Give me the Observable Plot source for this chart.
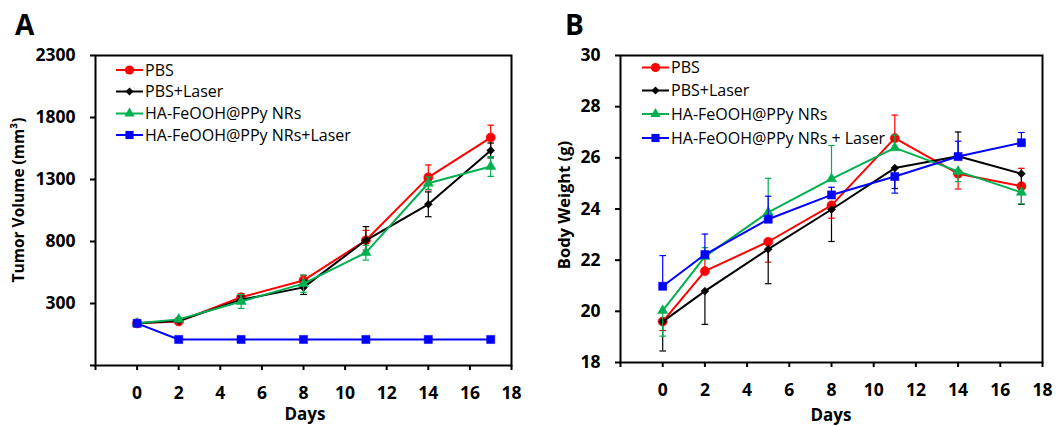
<!DOCTYPE html>
<html>
<head>
<meta charset="utf-8">
<script src="https://cdn.jsdelivr.net/npm/d3@7"></script>
<script src="https://cdn.jsdelivr.net/npm/@observablehq/plot@0.6"></script>
<style>
  html, body { margin: 0; padding: 0; background: #fff; }
  #wrap { position: relative; width: 1062px; height: 426px; font-family: "Open Sans", sans-serif; }
  #wrap > svg { position: absolute; top: 0; }
</style>
</head>
<body>
<div id="wrap"></div>
<script>
// ---------- data ----------
const days = [0, 2, 5, 8, 11, 14, 17];
const xTicks = [-2, 0, 2, 4, 6, 8, 10, 12, 14, 16, 18];

const namesA = ["PBS", "PBS+Laser", "HA-FeOOH@PPy NRs", "HA-FeOOH@PPy NRs+Laser"];
const namesB = ["PBS", "PBS+Laser", "HA-FeOOH@PPy NRs", "HA-FeOOH@PPy NRs + Laser"];
const colors = ["#ff0000", "#000000", "#00b050", "#0000ff"];
const symbols = ["circle", "diamond2", "triangle", "square"];

// Panel A: tumor volume (mm³)
const volTicks = [-200, 300, 800, 1300, 1800, 2300];
const volPBS      = [140, 155, 350, 486, 810, 1317, 1638];
const volPBSLaser = [140, 160, 330, 430, 810, 1100, 1534];
const volNRs      = [140, 172, 316, 460, 710, 1270, 1405];
const volNRsLaser = [140, 10, 10, 10, 10, 10, 10];
// error bars as [down, up]
const volErrPBS      = [[0,0],[10,10],[30,30],[40,40],[80,80],[100,100],[100,100]];
const volErrPBSLaser = [[0,0],[10,10],[30,30],[57,57],[110,110],[100,100],[60,60]];
const volErrNRs      = [[0,0],[10,10],[56,56],[70,70],[60,60],[50,50],[80,80]];
const volErrNRsLaser = [[0,0],[0,0],[0,0],[0,0],[0,0],[0,0],[0,0]];

// Panel B: body weight (g)
const wTicks = [18, 20, 22, 24, 26, 28, 30];
const wPBS      = [19.6, 21.57, 22.72, 24.14, 26.77, 25.38, 24.89];
const wPBSLaser = [19.6, 20.79, 22.43, 23.98, 25.6, 26.06, 25.38];
const wNRs      = [20.03, 22.14, 23.87, 25.18, 26.39, 25.47, 24.65];
const wNRsLaser = [20.98, 22.22, 23.6, 24.55, 25.27, 26.05, 26.59];
const wErrPBS      = [[0.35,0],[0,0.5],[0.8,0],[0.5,0],[0,0.9],[0.6,0],[0,0.7]];
const wErrPBSLaser = [[1.15,0],[1.3,0],[1.35,0],[1.25,0],[0.8,0],[0,0.95],[1.2,0]];
const wErrNRs      = [[1.0,0],[0,0.35],[0,1.33],[0,1.3],[0,0.5],[0.4,0],[0.45,0]];
const wErrNRsLaser = [[0,1.2],[0,0.8],[0,0.9],[0,0.3],[0.65,0],[0,0.6],[0,0.4]];

// ---------- drawing ----------
const markerR = [4.6, 3.6, 3.8, 4.6];
const capSymbol = {
  draw(ctx, size) { const w = Math.sqrt(size) / 2; ctx.moveTo(-w, 0); ctx.lineTo(w, 0); }
};

function makePanel({series, errors, yDomain, yTicks, yFormat, marginLeft, marginBottom}) {
  const marks = [];
  series.forEach((vals, i) => {
    const rows = days.map((d, j) => ({
      day: d, v: vals[j],
      down: errors[i][j][0], up: errors[i][j][1],
      lo: vals[j] - errors[i][j][0], hi: vals[j] + errors[i][j][1]
    }));
    const bars = rows.filter(r => r.down > 0 || r.up > 0);
    const caps = rows.filter(r => r.down > 0).map(r => ({day: r.day, y: r.lo}))
      .concat(rows.filter(r => r.up > 0).map(r => ({day: r.day, y: r.hi})));
    marks.push(
      Plot.ruleX(bars, {x: "day", y1: "lo", y2: "hi", stroke: colors[i], strokeWidth: 1.2}),
      Plot.dot(caps, {x: "day", y: "y", symbol: capSymbol, r: 3.7, stroke: colors[i], strokeWidth: 1.2, fill: "none"}),
      Plot.line(rows, {x: "day", y: "v", stroke: colors[i], strokeWidth: 2}),
      Plot.dot(rows, {x: "day", y: "v", symbol: symbols[i], r: markerR[i], fill: colors[i], stroke: colors[i], strokeWidth: 0.5})
    );
  });
  return Plot.plot({
    width: 531,
    height: 426,
    marginLeft,
    marginRight: 20,
    marginTop: 55,
    marginBottom,
    style: {fontFamily: "Open Sans", fontSize: "17px", fontWeight: "bold", color: "#000", background: "transparent"},
    x: {domain: [-2, 18]},
    y: {domain: yDomain},
    marks: [
      ...marks,
      Plot.axisX({ticks: xTicks, tickFormat: d => d < 0 ? "" : String(d), tickSize: 5, tickPadding: 16,
        strokeWidth: 2, fontSize: 17.5, fontWeight: "bold", label: null}),
      Plot.axisY({ticks: yTicks, tickFormat: yFormat, tickSize: 5, tickPadding: 15,
        strokeWidth: 2, fontSize: 17.5, fontWeight: "bold", label: null}),
      Plot.frame({stroke: "#000", strokeWidth: 2})
    ]
  });
}

const wrap = document.getElementById("wrap");

const plotA = makePanel({
  series: [volPBS, volPBSLaser, volNRs, volNRsLaser],
  errors: [volErrPBS, volErrPBSLaser, volErrNRs, volErrNRsLaser],
  yDomain: [-200, 2300], yTicks: volTicks, yFormat: d => d < 0 ? "" : String(d),
  marginLeft: 95, marginBottom: 61
});
plotA.style.left = "0px";
wrap.appendChild(plotA);

const plotB = makePanel({
  series: [wPBS, wPBSLaser, wNRs, wNRsLaser],
  errors: [wErrPBS, wErrPBSLaser, wErrNRs, wErrNRsLaser],
  yDomain: [18, 30], yTicks: wTicks, yFormat: d => String(d),
  marginLeft: 89, marginBottom: 64
});
plotB.style.left = "531px";
wrap.appendChild(plotB);

// ---------- overlay: letters, titles, legends ----------
const ov = d3.select(wrap).append("svg")
  .attr("width", 1062).attr("height", 426)
  .style("left", "0px").style("pointer-events", "none")
  .style("font-family", "Open Sans");

ov.append("text").attr("x", 15).attr("y", 35).attr("font-size", 28).attr("font-weight", "bold").text("A");
ov.append("text").attr("x", 565).attr("y", 35).attr("font-size", 28).attr("font-weight", "bold").text("B");

ov.append("text").attr("transform", "translate(24,200) rotate(-90)").attr("text-anchor", "middle")
  .attr("font-size", 15.5).attr("font-weight", "bold").text("Tumor Volume (mm³)");
ov.append("text").attr("transform", "translate(570,205) rotate(-90)").attr("text-anchor", "middle")
  .attr("font-size", 16.5).attr("font-weight", "bold").text("Body Weight (g)");

ov.append("text").attr("x", 305).attr("y", 420).attr("text-anchor", "middle")
  .attr("font-size", 17).attr("font-weight", "bold").text("Days");
ov.append("text").attr("x", 831).attr("y", 421).attr("text-anchor", "middle")
  .attr("font-size", 17).attr("font-weight", "bold").text("Days");

const symTypes = {circle: d3.symbolCircle, diamond2: d3.symbolDiamond2, triangle: d3.symbolTriangle, square: d3.symbolSquare};

function legend(names, x0, x1, rowsY) {
  const g = ov.append("g");
  names.forEach((name, i) => {
    const y = rowsY[i];
    g.append("line").attr("x1", x0).attr("x2", x1).attr("y1", y).attr("y2", y)
      .attr("stroke", colors[i]).attr("stroke-width", 2);
    g.append("path")
      .attr("d", d3.symbol(symTypes[symbols[i]], markerR[i] * markerR[i] * Math.PI)())
      .attr("transform", `translate(${(x0 + x1) / 2},${y})`)
      .attr("fill", colors[i]);
    g.append("text").attr("x", x1 + 2).attr("y", y + 5.7).attr("font-size", 16).text(name);
  });
}
legend(namesA, 116, 143, [70, 91.5, 113.5, 135]);
legend(namesB, 642, 669, [67.5, 90.5, 114, 138]);
</script>
</body>
</html>
